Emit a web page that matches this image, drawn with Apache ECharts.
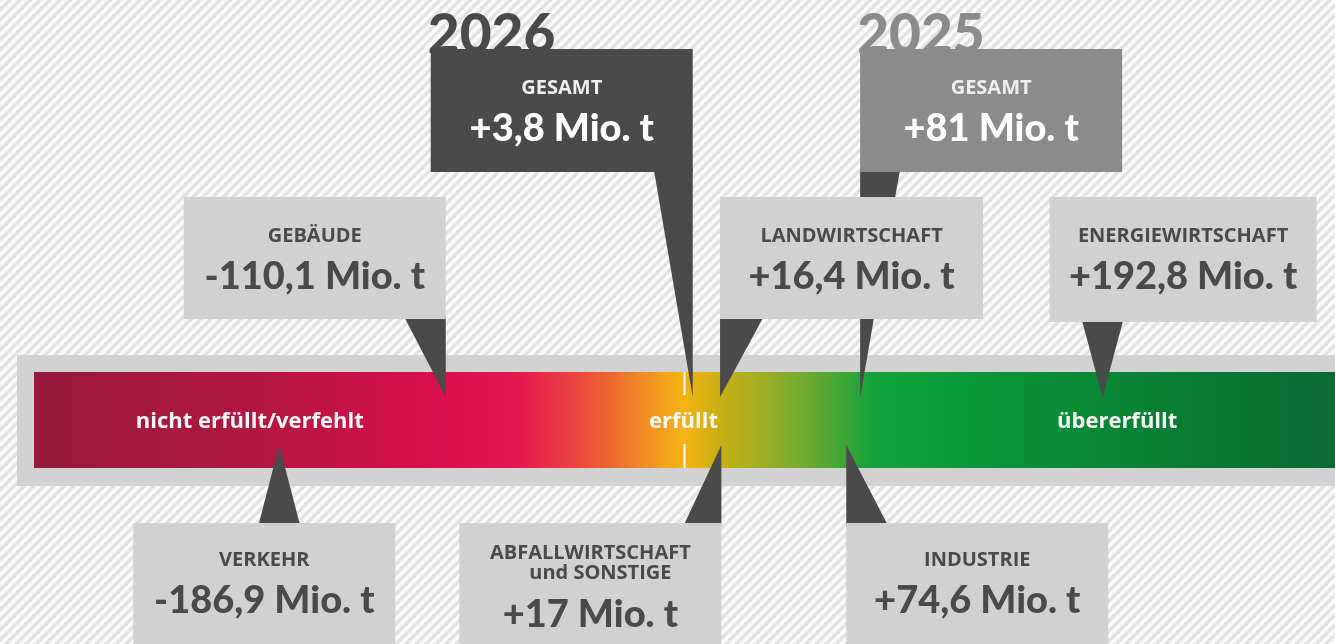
<!DOCTYPE html>
<html>
<head>
<meta charset="utf-8">
<script src="https://cdn.jsdelivr.net/npm/echarts@6/dist/echarts.min.js"></script>
<style>
html,body{margin:0;padding:0;background:#fafafa;overflow:hidden}
#chart{width:1335px;height:644px}
</style>
</head>
<body>
<div id="chart"></div>
<script>
// ---------------- DATA ----------------
const sectorNames  = ['GEBÄUDE', 'LANDWIRTSCHAFT', 'ENERGIEWIRTSCHAFT', 'VERKEHR', 'ABFALLWIRTSCHAFT\nund SONSTIGE', 'INDUSTRIE'];
const sectorValues = [-110.1, 16.4, 192.8, -186.9, 17, 74.6];
const totalYears   = ['2026', '2025'];
const totalLabel   = 'GESAMT';
const totalValues  = [3.8, 81];
const zoneNames    = ['nicht erfüllt/verfehlt', 'erfüllt', 'übererfüllt'];
const zoneCenters  = [-200, 0, 200];
const scaleRange   = [-300, 300];
const unitLabel    = 'Mio. t';

// ---------------- LAYOUT / STYLE ----------------
const sectorLayout = [
  {row: 'mid', anchor: 'right', w: 262},
  {row: 'mid', anchor: 'left', w: 263, base: 44},
  {row: 'mid', anchor: 'center', w: 267, off: -53, h: 125},
  {row: 'low', anchor: 'center', w: 262, off: -146},
  {row: 'low', anchor: 'right', w: 262, base: 38},
  {row: 'low', anchor: 'left', w: 262}
];
const totalLayout = [
  {row: 'high', anchor: 'right', w: 262, base: 39, fill: '#4a4a4a', yearColor: '#4a4a4a'},
  {row: 'high', anchor: 'left', w: 262, base: 40, fill: '#8b8b8b', yearColor: '#8b8b8b'}
];
const ROWS = {high: {top: 49, h: 123}, mid: {top: 197, h: 122}, low: {top: 523, h: 130}};
const BAR = {top: 372, height: 96, pad: 17};
const TIP = {above: 397, below: 445};
const DARK = '#4a4a4a', BOXGREY = '#d1d1d1';
const FONT = 'Lato, "Open Sans", sans-serif';
const LABEL_FONT = '"Open Sans", Lato, sans-serif';

function fmt(v) {
  const s = String(Math.abs(v)).replace('.', ',');
  return (v < 0 ? '-' : '+') + s + ' ' + unitLabel;
}

const callouts = sectorNames.map((n, i) => ({name: n, value: sectorValues[i], lay: sectorLayout[i], total: false}))
  .concat(totalYears.map((y, i) => ({name: totalLabel, year: y, value: totalValues[i], lay: totalLayout[i], total: true})));

// background stripes tile
const tile = document.createElement('canvas');
tile.width = 10; tile.height = 10;
(function () {
  const c = tile.getContext('2d');
  c.fillStyle = '#fbfbfb'; c.fillRect(0, 0, 10, 10);
  c.strokeStyle = '#e2e2e2'; c.lineWidth = 3.4;
  c.beginPath();
  c.moveTo(-2, 12); c.lineTo(12, -2);
  c.moveTo(-6, 6); c.lineTo(6, -6);
  c.moveTo(4, 16); c.lineTo(16, 4);
  c.stroke();
})();

function geom(c, api) {
  const px = api.coord([c.value, 0])[0];
  const L = c.lay, R = ROWS[L.row];
  let bx;
  if (L.anchor === 'right') bx = px - L.w;
  else if (L.anchor === 'left') bx = px;
  else bx = px + L.off;
  return {px, bx, by: R.top, bw: L.w, bh: L.h || R.h, above: L.row !== 'low'};
}

const chart = echarts.init(document.getElementById('chart'), null, {renderer: 'canvas'});

const option = {
  animation: false,
  graphic: [{
    type: 'rect', z: -10, silent: true,
    shape: {x: 0, y: 0, width: 1335, height: 644},
    style: {fill: {image: tile, repeat: 'repeat'}}
  }],
  grid: {left: 34, width: 1302, top: 0, height: 644},
  xAxis: {type: 'value', min: scaleRange[0], max: scaleRange[1], show: false},
  yAxis: {type: 'value', min: 0, max: 644, inverse: true, show: false},
  series: [
    { // scale bar
      type: 'custom', z: 1, clip: false, silent: true,
      data: [[scaleRange[0], scaleRange[1]]],
      renderItem: function (params, api) {
        const x0 = api.coord([api.value(0), 0])[0];
        const x1 = api.coord([api.value(1), 0])[0];
        const xz = api.coord([0, 0])[0];
        return {type: 'group', children: [
          {type: 'rect', shape: {x: x0 - BAR.pad, y: BAR.top - BAR.pad, width: x1 - x0 + 2 * BAR.pad + 10, height: BAR.height + 2 * BAR.pad + 1},
           style: {fill: '#d2d2d2'}},
          {type: 'rect', shape: {x: x0, y: BAR.top, width: x1 - x0 + 4, height: BAR.height},
           style: {fill: new echarts.graphic.LinearGradient(0, 0, 1, 0, [
             {offset: 0, color: '#961a3b'},
             {offset: 0.17, color: '#b3173f'},
             {offset: 0.317, color: '#dc0f4f'},
             {offset: 0.37, color: '#e4164e'},
             {offset: 0.415, color: '#ea4540'},
             {offset: 0.445, color: '#ee6c2d'},
             {offset: 0.473, color: '#f39522'},
             {offset: 0.498, color: '#f6b312'},
             {offset: 0.527, color: '#c6b015'},
             {offset: 0.558, color: '#9fae24'},
             {offset: 0.588, color: '#74ab30'},
             {offset: 0.619, color: '#40a636'},
             {offset: 0.642, color: '#13a33c'},
             {offset: 0.742, color: '#089437'},
             {offset: 0.88, color: '#0a7d34'},
             {offset: 1, color: '#0b6a31'}
           ])}},
          {type: 'rect', shape: {x: xz - 1, y: BAR.top, width: 2, height: 23}, style: {fill: '#ffffff'}},
          {type: 'rect', shape: {x: xz - 1, y: BAR.top + BAR.height - 24, width: 2, height: 24}, style: {fill: '#ffffff'}}
        ]};
      }
    },
    { // zone labels
      type: 'custom', z: 2, clip: false, silent: true,
      data: zoneCenters.map((v, i) => [v, 0]),
      renderItem: function (params, api) {
        const x = api.coord([api.value(0), 0])[0];
        return {type: 'text', style: {
          text: zoneNames[params.dataIndex], x: x - 1, y: BAR.top + BAR.height / 2 + 2,
          fill: '#f6f6f6', font: '700 22px ' + LABEL_FONT, align: 'center', verticalAlign: 'middle'
        }};
      }
    },
    { // pointers
      type: 'custom', z: 3, clip: false, silent: true,
      data: callouts.map(c => [c.value, 0]),
      renderItem: function (params, api) {
        const c = callouts[params.dataIndex];
        const g = geom(c, api);
        const base = c.lay.base || 42;
        const edgeY = g.above ? g.by + g.bh - 3 : g.by + 3;
        const tipY = g.above ? TIP.above : TIP.below;
        let pts;
        if (c.lay.anchor === 'right') pts = [[g.px - base, edgeY], [g.px, edgeY], [g.px, tipY]];
        else if (c.lay.anchor === 'left') pts = [[g.px, edgeY], [g.px + base, edgeY], [g.px, tipY]];
        else pts = [[g.px - base / 2, edgeY], [g.px + base / 2, edgeY], [g.px, tipY]];
        return {type: 'polygon', shape: {points: pts}, style: {fill: DARK}};
      }
    },
    { // boxes and texts
      type: 'custom', z: 4, clip: false, silent: true,
      data: callouts.map(c => [c.value, 0]),
      renderItem: function (params, api) {
        const c = callouts[params.dataIndex];
        const g = geom(c, api);
        const cx = g.bx + g.bw / 2;
        const children = [];
        if (c.total) {
          children.push({type: 'text', style: {
            text: c.year, x: g.bx - 3, y: g.by - 14, fill: c.lay.yearColor,
            font: '900 55px ' + FONT, align: 'left', verticalAlign: 'middle'
          }});
        }
        children.push({type: 'rect', shape: {x: g.bx, y: g.by, width: g.bw, height: g.bh},
          style: {fill: c.total ? c.lay.fill : BOXGREY}});
        const lines = c.name.split('\n');
        const labelFill = c.total ? '#eeeeee' : DARK;
        const valueFill = c.total ? '#ffffff' : DARK;
        const lf = '700 20px ' + LABEL_FONT;
        let valueY;
        if (lines.length > 1) {
          children.push({type: 'text', style: {text: lines[0], x: cx, y: g.by + 30, fill: labelFill,
            font: lf, align: 'center', verticalAlign: 'middle'}});
          children.push({type: 'text', style: {text: lines[1], x: cx + 10, y: g.by + 50, fill: labelFill,
            font: lf, align: 'center', verticalAlign: 'middle'}});
          valueY = g.by + 92;
        } else {
          children.push({type: 'text', style: {text: lines[0], x: cx, y: g.by + (g.above ? 39 : 37), fill: labelFill,
            font: lf, align: 'center', verticalAlign: 'middle'}});
          valueY = g.by + (g.above ? 80 : 78);
        }
        children.push({type: 'text', style: {text: fmt(api.value(0)), x: cx, y: valueY, fill: valueFill,
          font: '900 38px ' + FONT, align: 'center', verticalAlign: 'middle'}});
        return {type: 'group', children: children};
      }
    }
  ]
};
chart.setOption(option);
</script>
</body>
</html>
